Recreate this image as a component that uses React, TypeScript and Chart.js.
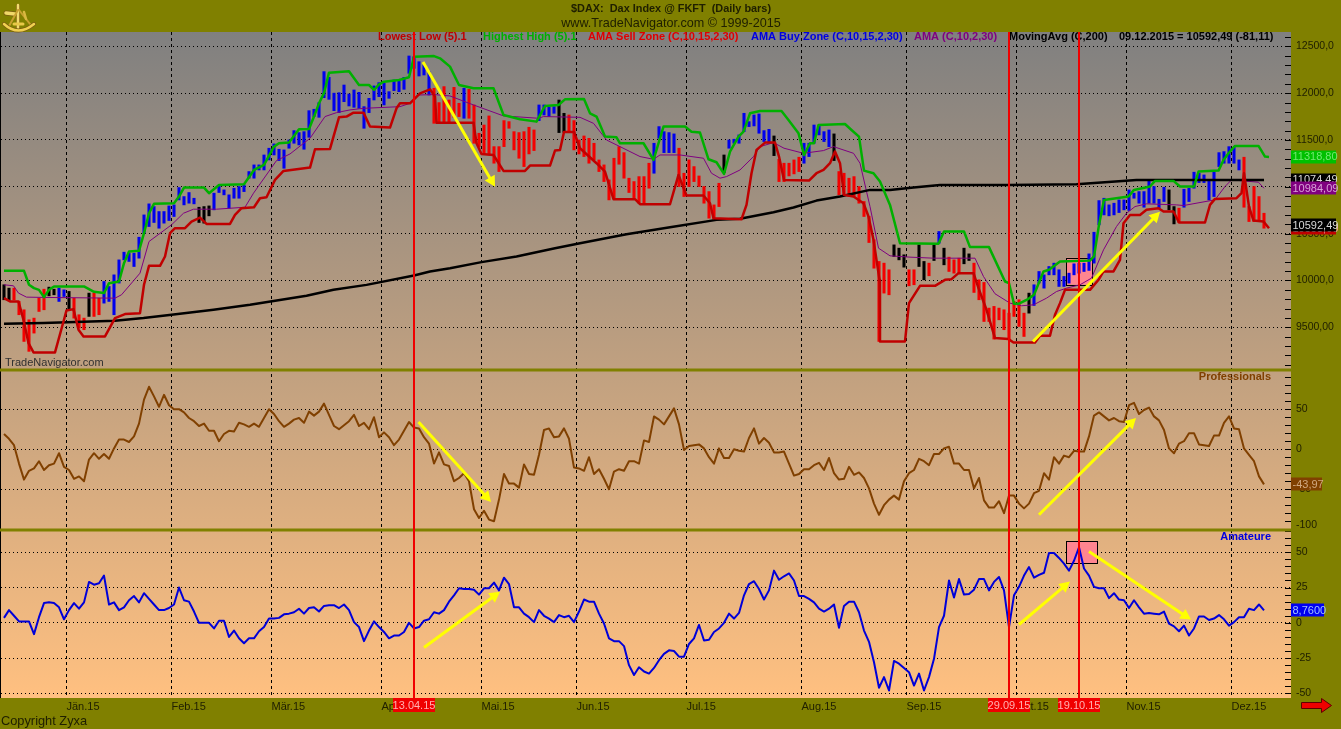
import React, { useEffect, useRef } from "react";
import { Chart, registerables } from "chart.js";

Chart.register(...registerables);

const monthLabels = ["Jän.15", "Feb.15", "Mär.15", "Apr.15", "Mai.15", "Jun.15", "Jul.15", "Aug.15", "Sep.15", "Okt.15", "Nov.15", "Dez.15"];
const monthBars = [12.5, 33.5, 53.5, 75.5, 95.5, 114.5, 136.5, 159.5, 180.5, 202.5, 224.5, 245.5];

const priceLabels: Record<number, string> = { 12500: "12500,0", 12000: "12000,0", 11500: "11500,0", 11000: "11000,0", 10500: "10500,0", 10000: "10000,0", 9500: "9500,00" };
const proLabels: Record<number, string> = { 50: "50", 0: "0", [-50]: "-50" };
const amaLabels: Record<number, string> = { 50: "50", 25: "25", 0: "0", [-25]: "-25", [-50]: "-50" };

const barHighs = [9954, 9918, 9918, 9776, 9687, 9580, 9598, 9811, 9907, 9929, 9907, 9918, 9900, 9883, 9811, 9634, 9598, 9865, 9865, 9811, 9989, 9936, 10060, 10220, 10302, 10292, 10292, 10462, 10700, 10818, 10789, 10736, 10736, 10796, 10807, 10992, 10896, 10939, 10878, 10782, 10789, 10796, 10932, 11013, 10967, 10914, 10985, 11003, 11020, 11163, 11234, 11234, 11340, 11412, 11458, 11401, 11394, 11500, 11600, 11579, 11589, 11813, 11828, 11899, 12230, 12169, 12000, 12005, 12087, 11991, 12034, 12009, 11856, 11945, 12077, 12112, 12105, 12016, 12141, 12141, 12169, 12397, 12389, 12336, 12301, 12230, 12052, 11899, 12070, 11927, 12062, 11892, 12052, 12041, 11874, 11572, 11660, 11757, 11429, 11429, 11707, 11696, 11589, 11579, 11589, 11636, 11607, 11874, 11874, 11849, 11856, 11927, 11785, 11767, 11707, 11500, 11543, 11518, 11465, 11287, 11234, 11074, 11305, 11429, 11365, 11092, 11056, 11109, 11109, 11252, 11465, 11643, 11589, 11579, 11565, 11412, 11145, 11287, 11216, 11116, 11003, 10949, 10807, 11038, 11340, 11500, 11508, 11554, 11785, 11696, 11767, 11778, 11600, 11614, 11543, 11294, 11252, 11252, 11287, 11316, 11465, 11465, 11660, 11650, 11589, 11607, 11565, 11163, 11145, 11092, 11109, 11003, 10843, 10683, 10434, 10203, 10185, 10114, 10380, 10345, 10274, 10114, 10114, 10380, 10203, 10185, 10380, 10523, 10345, 10249, 10220, 10238, 10345, 10284, 10185, 10007, 9979, 9705, 9723, 9705, 9687, 9651, 9776, 9794, 9651, 9865, 9954, 10096, 10060, 10149, 10185, 10114, 10043, 10078, 10178, 10185, 10185, 10284, 10515, 10853, 10878, 10807, 10825, 10860, 10860, 10967, 10932, 10949, 10949, 11074, 11003, 10867, 10995, 10967, 10789, 10772, 10974, 10985, 11156, 11145, 11127, 11074, 11156, 11365, 11376, 11429, 11422, 11287, 11316, 10789, 11003, 10896, 10718];
const barLows = [9794, 9787, 9794, 9634, 9349, 9243, 9438, 9669, 9687, 9836, 9847, 9776, 9829, 9694, 9598, 9491, 9474, 9616, 9616, 9634, 9758, 9776, 9634, 9972, 10220, 10203, 10149, 10238, 10505, 10576, 10619, 10558, 10612, 10640, 10683, 10860, 10807, 10825, 10818, 10619, 10612, 10690, 10754, 10939, 10914, 10772, 10878, 10878, 10949, 11092, 11092, 11180, 11180, 11287, 11340, 11280, 11198, 11412, 11465, 11447, 11401, 11529, 11750, 11742, 11952, 11934, 11813, 11792, 11909, 11863, 11849, 11838, 11625, 11792, 11927, 11963, 11874, 11945, 12027, 12016, 12041, 12212, 12265, 12183, 12194, 11980, 11678, 11678, 11678, 11685, 11742, 11750, 11732, 11732, 11465, 11429, 11358, 11340, 11252, 11163, 11429, 11625, 11394, 11305, 11216, 11351, 11387, 11707, 11767, 11750, 11785, 11579, 11582, 11589, 11394, 11351, 11323, 11252, 11287, 11163, 11056, 10860, 10878, 11241, 11092, 10939, 10878, 10825, 10818, 10985, 11145, 11518, 11365, 11365, 11365, 11003, 10896, 11003, 11056, 11003, 10825, 10665, 10654, 10789, 11152, 11412, 11465, 11465, 11589, 11643, 11650, 11572, 11483, 11465, 11333, 11056, 11056, 11116, 11138, 11163, 11252, 11323, 11465, 11554, 11483, 11429, 11280, 10914, 10914, 10896, 10896, 10825, 10683, 10405, 10131, 9349, 9865, 9847, 10256, 10220, 10142, 9943, 9954, 10149, 10007, 10050, 10213, 10398, 10167, 10096, 10078, 10071, 10178, 10213, 9872, 9794, 9562, 9562, 9374, 9580, 9474, 9374, 9616, 9509, 9402, 9651, 9733, 9972, 9918, 10060, 10060, 9936, 9936, 9972, 10060, 10078, 10096, 10107, 10185, 10594, 10700, 10690, 10700, 10725, 10754, 10747, 10878, 10825, 10782, 10825, 10825, 10772, 10843, 10754, 10604, 10619, 10782, 10843, 10985, 11045, 11045, 10860, 10896, 11216, 11252, 11252, 11252, 11180, 10782, 10629, 10629, 10629, 10558];
const barColorRuns: [string, number][] = [["k", 2], ["r", 7], ["k", 2], ["b", 2], ["k", 1], ["r", 3], ["k", 1], ["r", 2], ["b", 19], ["k", 3], ["b", 44], ["r", 6], ["b", 1], ["r", 14], ["b", 4], ["k", 2], ["r", 17], ["b", 5], ["r", 9], ["k", 1], ["b", 9], ["k", 1], ["r", 5], ["b", 6], ["k", 1], ["r", 11], ["k", 3], ["r", 2], ["k", 2], ["r", 1], ["k", 1], ["b", 1], ["k", 1], ["r", 3], ["k", 2], ["r", 11], ["k", 1], ["b", 27], ["k", 2], ["r", 1], ["b", 12], ["r", 5]];

const highestHigh = [[0, 10103], [4, 10103], [5, 9954], [6, 9918], [7, 9900], [8, 9822], [9, 9900], [10, 9936], [16, 9936], [17, 9907], [18, 9879], [20, 9865], [21, 9971], [23, 9989], [24, 10185], [25, 10309], [27, 10316], [28, 10505], [29, 10718], [30, 10818], [34, 10825], [35, 10896], [36, 10992], [40, 10992], [41, 10932], [43, 11020], [48, 11028], [50, 11180], [52, 11234], [54, 11429], [55, 11465], [57, 11472], [59, 11614], [61, 11618], [62, 11750], [63, 11892], [64, 12000], [65, 12219], [69, 12233], [71, 12087], [73, 12087], [74, 12034], [75, 12094], [76, 12123], [79, 12141], [81, 12169], [82, 12389], [86, 12396], [87.2, 12372], [89.2, 12283], [91, 12087], [93.9, 12052], [97.9, 12052], [99.9, 11767], [103.2, 11721], [106.5, 11696], [108.2, 11863], [110.9, 11874], [112.2, 11934], [116, 11938], [117.2, 11785], [118.5, 11750], [120.2, 11536], [122.5, 11529], [123.2, 11465], [127.9, 11465], [129.9, 11287], [131.9, 11643], [136.2, 11643], [137.5, 11589], [139.2, 11579], [140.9, 11294], [142.5, 11262], [144, 11138], [145.2, 11376], [146.9, 11536], [147.9, 11589], [149.2, 11785], [151.2, 11810], [155.5, 11810], [156.9, 11714], [158.9, 11572], [160, 11340], [161.2, 11465], [162, 11465], [162.9, 11660], [168.2, 11671], [169.5, 11607], [171, 11536], [172, 11173], [173.9, 11145], [175.2, 11056], [177.2, 10807], [179.2, 10398], [186.9, 10391], [188, 10523], [192, 10523], [193.2, 10356], [197, 10356], [200.2, 9989], [201, 9971], [202, 9751], [202.9, 9751], [204.9, 9804], [206, 9847], [207.9, 10096], [209, 10114], [211.2, 10203], [217.2, 10213], [218, 10256], [219, 10594], [220, 10860], [224.9, 10896], [226, 10967], [229.2, 11003], [230.2, 11063], [233.9, 11063], [235.2, 11003], [238, 11003], [238.9, 11163], [242.9, 11173], [243.9, 11287], [244.9, 11358], [246.2, 11437], [250.9, 11437], [252.2, 11323], [253, 11319]];
const lowestLow = [[0, 9811], [1.2, 9776], [2.9, 9776], [3.9, 9580], [4.9, 9331], [5.9, 9232], [10.2, 9232], [11.9, 9562], [12.5, 9680], [13.9, 9694], [14.9, 9474], [15.9, 9402], [20.2, 9402], [22.2, 9598], [24.2, 9641], [27.2, 9651], [28, 9954], [29, 10156], [31.2, 10156], [32.2, 10256], [33.2, 10505], [34.2, 10558], [36.2, 10558], [37.5, 10629], [39.2, 10672], [40.5, 10604], [45.2, 10604], [46.2, 10700], [47.5, 10772], [50, 10782], [51.2, 10878], [52.5, 10889], [54.2, 11074], [55.9, 11170], [61.2, 11205], [62.2, 11401], [65.2, 11405], [67, 11742], [68.5, 11750], [69.9, 11792], [71.9, 11792], [73.2, 11643], [77.2, 11632], [78.5, 11838], [79.2, 11892], [81.2, 11892], [83.2, 11998], [85.2, 12041], [86.2, 11963], [86.5, 11685], [93.9, 11685], [94.5, 11465], [95.5, 11351], [97.9, 11340], [99.9, 11170], [104.2, 11170], [105.2, 11227], [109.2, 11227], [110.2, 11387], [111.2, 11394], [112, 11586], [114, 11586], [115.2, 11412], [118.5, 11252], [120.2, 11163], [121.9, 10868], [126.2, 10868], [127.2, 10814], [133.2, 10814], [134.9, 11127], [136.5, 10907], [139.9, 10907], [141.2, 10825], [141.9, 10665], [147.5, 10654], [148.5, 10807], [149.5, 11145], [150.5, 11394], [152.2, 11472], [154.2, 11472], [155, 11323], [156, 11074], [161, 11067], [162.5, 11145], [163.9, 11180], [165.2, 11252], [166.2, 11376], [167.2, 11252], [168, 10914], [169.9, 10896], [171.9, 10825], [172.9, 10683], [173.9, 10434], [175.1, 10007], [175.2, 9349], [180.2, 9349], [181, 9758], [183.2, 9943], [186.2, 9943], [188.2, 10007], [189.5, 10014], [190.9, 10078], [193.9, 10078], [194.9, 9918], [196.5, 9687], [198.2, 9385], [200.9, 9374], [201.9, 9338], [206.2, 9338], [207.2, 9410], [209.2, 9410], [210.2, 9634], [211.2, 9758], [212.2, 9900], [217.2, 9900], [218.9, 10007], [219.9, 10096], [221.9, 10096], [223.2, 10220], [223.9, 10611], [225.2, 10700], [227.2, 10700], [228.5, 10754], [230.9, 10772], [231.9, 10736], [233.9, 10736], [235, 10619], [240.2, 10619], [241.2, 10807], [242.2, 10871], [246.5, 10878], [247.5, 10932], [248, 11145], [249, 10789], [249.9, 10640], [251.9, 10629], [253, 10558]];
const amaLine = [[0, 9954], [1.9, 9943], [2.9, 9865], [4.5, 9822], [7.9, 9819], [22.2, 9811], [23.5, 9847], [27.2, 10078], [29, 10416], [33.5, 10594], [35.9, 10718], [37.9, 10761], [42.5, 10761], [48.2, 10782], [49.9, 10932], [54.5, 11280], [57.2, 11351], [61.2, 11518], [64.2, 11750], [66.5, 11792], [69.2, 11821], [71.9, 11838], [79.2, 11856], [81.2, 11892], [82.9, 11980], [86, 11985], [89.2, 11970], [93.9, 11874], [99.9, 11757], [106.9, 11732], [107.9, 11750], [115.2, 11742], [117.9, 11678], [120.5, 11500], [123.2, 11429], [127.2, 11323], [129.9, 11294], [131.2, 11340], [135.2, 11340], [139.9, 11305], [141.5, 11145], [143.2, 11092], [144.5, 11109], [147.2, 11180], [149.9, 11323], [151.2, 11429], [153.9, 11472], [156, 11412], [159.9, 11358], [163.9, 11387], [165.9, 11429], [169.9, 11358], [171.2, 11252], [173.2, 10789], [174.9, 10345], [177.2, 10263], [181.2, 10249], [185.9, 10238], [194.2, 10238], [195.9, 10042], [198.2, 9858], [201.2, 9758], [203.5, 9730], [205.9, 9740], [208.5, 9811], [210.5, 9882], [212.5, 9918], [215.2, 9954], [217.5, 10025], [219.9, 10327], [222.5, 10576], [224.5, 10718], [226.2, 10789], [228.5, 10818], [234.5, 10807], [235.9, 10800], [239.2, 10832], [242.2, 10861], [244.2, 11003], [245.5, 11074], [250.9, 11049], [252, 10984]];
const movingAvg = [[0, 9537], [7.9, 9545], [22.2, 9570], [27.9, 9598], [33.5, 9633], [41.9, 9687], [49.2, 9740], [60.5, 9836], [65.9, 9900], [72.5, 9953], [82, 10053], [85.2, 10096], [89.2, 10131], [95.5, 10196], [102.5, 10256], [110.2, 10345], [115.2, 10398], [124.5, 10494], [133.2, 10569], [142.5, 10647], [147.2, 10658], [153.9, 10729], [157.9, 10779], [162.5, 10853], [167.2, 10896], [173.2, 10967], [177.2, 10967], [181.9, 10992], [187.2, 11020], [200.9, 11020], [214.5, 11028], [226.5, 11074], [252, 11074]];

const professionals = [19, 13, 5, -18, -38, -27, -24, -15, -26, -20, -18, -5, -22, -26, -37, -34, -40, -13, -5, -12, -6, -12, 1, 12, 12, 9, 16, 32, 62, 78, 66, 53, 68, 55, 50, 50, 46, 39, 35, 29, 32, 23, 23, 10, 19, 23, 22, 33, 31, 28, 32, 28, 39, 50, 44, 35, 28, 32, 37, 39, 33, 47, 42, 47, 57, 43, 29, 25, 30, 35, 43, 29, 33, 25, 40, 15, 21, 15, 5, 12, 23, 34, 27, 26, 15, 7, -18, -4, -19, -21, -40, -36, -30, -40, -75, -86, -77, -88, -90, -63, -31, -43, -43, -48, -19, -31, -32, -7, 24, 26, 15, 16, 26, 13, -23, -24, -27, -10, -31, -25, -37, -50, -28, -25, -27, -15, -15, -18, 11, 9, 41, 37, 31, 41, 51, 31, -1, 4, 5, 6, 1, -10, -18, 1, -11, -11, 0, -2, -3, 14, 26, 7, 14, 8, -4, -4, -3, -18, -33, -31, -25, -25, -20, -17, -26, -11, -30, -38, -37, -22, -32, -29, -36, -49, -68, -82, -70, -63, -58, -63, -40, -30, -26, -12, -15, -20, -6, -6, 1, 3, -18, -18, -26, -26, -49, -36, -64, -73, -73, -65, -80, -58, -58, -68, -74, -68, -55, -52, -30, -38, -10, -18, -8, -10, -2, -3, -3, 16, 42, 46, 41, 36, 39, 35, 34, 55, 58, 44, 49, 52, 41, 36, 24, 1, -5, 7, 10, 20, 20, 6, 5, 4, 17, 17, 33, 41, 26, 25, 1, -7, -15, -34, -43.97];
const amateure = [3.5, 9, 5, 1, 1, 1, -8, 4, 14, 14.5, 14, 11, 2.5, 9, 14, 10, 14.5, 29, 27, 28, 33.5, 13, 14.5, 9, 11, 16, 19, 14.5, 21, 17, 13, 9, 9, 10.5, 13, 25, 16, 15, 8, 0, 0, 0, -4, 1.5, 1.5, -10, -5.5, -11, -14.5, -11, -11, -6, -3, 3, 3, 3.5, 6, 6.5, 7.5, 10, 6.5, 10.5, 11, 8, 12, 12.5, 12.5, 10.5, 13, 9, 0.5, -3, -13, -5.5, 1, -3, -6.5, -11, -9, -9, -6.5, 0, -4, -3, 1.5, 2.5, 7.5, 6.5, 9, 15, 19.5, 24.5, 24, 24, 23.5, 20, 24.5, 24.5, 28.5, 23, 32, 27.5, 11, 11, 6.5, 4, 0.5, 9, 5, 3, 0.5, 5.5, 4, 5, 0.5, 8, 16.5, 15, 15, 6.5, -0.5, -11, -13, -13, -16.5, -30, -37, -31.5, -34.5, -36, -32, -26.5, -22, -19.5, -20, -24, -24, -15, -11, -1.5, -12.5, -12, -6.5, -4, 0, 6.5, 3, 7, 19.5, 27.5, 29.5, 24, 16.5, 23, 37, 30.5, 33, 35, 30, 19, 19, 17, 14.5, 10, 8, 10, 13, -3.5, 12, 15, 15, 7.5, -5.5, -13.5, -28, -46, -38.5, -48, -27, -29, -32, -35, -44.5, -36, -48, -38.5, -25.5, -3, 5, 30, 18, 31, 20, 20.5, 23.5, 31, 31, 23, 29, 32.5, 23, -3, 19.5, 25.5, 33.5, 39.5, 32, 34, 35.5, 49.5, 49.5, 46, 42, 37, 44, 53.5, 38.5, 33.5, 25.5, 24.5, 24.5, 17.5, 21, 16.5, 16, 10.5, 16, 11, 6.5, 7, 6.5, 6, 8, -0.5, -2.5, -6, -2, -9, -4, 4.5, 4.5, 2, 3, 5.5, 2.5, -2, 0.5, 4, 4, 10, 9, 13, 8.76];

const markerBars = [82, 201, 215];
const markerDates = ["13.04.15", "29.09.15", "19.10.15"];

const arrowScales = ["yP", "yP", "yD", "yD", "yA", "yA", "yA"];
const arrowFrom = [[34, 82.9], [-82, 207], [12333, 83.8], [9348, 205.8], [-17.5, 84], [-1.2, 203], [50.6, 217]];
const arrowTo = [[-66, 97.4], [39, 226.4], [11000, 98.2], [10734, 231.2], [22, 99.2], [29.3, 213.2], [2.3, 237.4]];

const boxScales = ["yD", "yA"];
const boxBars = [[212.4, 217.6], [212.4, 218.6]];
const boxValues = [[10243, 9955], [57.7, 41.8]];

const legendTexts = ["Lowest Low (5).1", "Highest High (5).1", "AMA Sell Zone (C,10,15,2,30)", "AMA Buy Zone (C,10,15,2,30)", "AMA (C,10,2,30)", "MovingAvg (C,200)", "09.12.2015 = 10592,49 (-81,11)"];

const barColorMap: Record<string, string> = { r: "#f40000", b: "#0000ee", k: "#000000" };
const barColors = barColorRuns.flatMap(([c, n]) => Array(n).fill(barColorMap[c]));
const pairs = (list: number[][]) => list.map(([x, y]) => ({ x, y }));
const perBar = (list: number[]) => list.map((y, x) => ({ x, y }));

const SANS = '"Liberation Sans", Arial, sans-serif';

function text(ctx: CanvasRenderingContext2D, s: string, x: number, y: number, font: string, color: string, align: CanvasTextAlign = "left") {
  ctx.font = font;
  ctx.fillStyle = color;
  ctx.textAlign = align;
  ctx.textBaseline = "middle";
  ctx.fillText(s, x, y);
}

function drawLogo(ctx: CanvasRenderingContext2D) {
  ctx.save();
  ctx.lineCap = "round";
  const stroke = (color: string, w: number, pts: number[][]) => {
    ctx.strokeStyle = color;
    ctx.lineWidth = w;
    ctx.beginPath();
    pts.forEach(([x, y], i) => (i ? ctx.lineTo(x, y) : ctx.moveTo(x, y)));
    ctx.stroke();
  };
  stroke("#7a5c10", 5, [[6, 13], [15, 14]]);
  stroke("#f0d868", 3.5, [[6, 13], [15, 14]]);
  stroke("#8a6a14", 4, [[18, 6], [18, 30]]);
  stroke("#f2dc70", 2.4, [[18, 5], [18, 30]]);
  stroke("#c8a030", 2, [[18, 10], [9, 26]]);
  stroke("#c8a030", 2, [[19, 10], [30, 24]]);
  stroke("#d8b840", 2.5, [[24, 12], [26, 19]]);
  ctx.strokeStyle = "#7a5c10";
  ctx.lineWidth = 4;
  ctx.beginPath();
  ctx.moveTo(4, 24);
  ctx.quadraticCurveTo(18, 37, 34, 24);
  ctx.stroke();
  ctx.strokeStyle = "#f0d050";
  ctx.lineWidth = 2.5;
  ctx.beginPath();
  ctx.moveTo(4, 24);
  ctx.quadraticCurveTo(18, 37, 34, 24);
  ctx.stroke();
  stroke("#e8c848", 3, [[14, 24], [23, 24]]);
  ctx.restore();
}

const chromePlugin = {
  id: "chrome",
  beforeDraw(chart: any) {
    const { ctx, chartArea: a, width, height } = chart;
    ctx.save();
    ctx.fillStyle = "#808000";
    ctx.fillRect(0, 0, width, height);
    const g = ctx.createLinearGradient(0, a.top, 0, a.bottom);
    g.addColorStop(0, "#808080");
    g.addColorStop(1, "#ffc080");
    ctx.fillStyle = g;
    ctx.fillRect(0, a.top, a.right, a.bottom - a.top);
    ctx.restore();
  },
  beforeDatasetsDraw(chart: any) {
    const { ctx, chartArea: a, scales } = chart;
    ctx.save();
    boxScales.forEach((id, k) => {
      const x0 = scales.x.getPixelForValue(boxBars[k][0]);
      const x1 = scales.x.getPixelForValue(boxBars[k][1]);
      const y0 = scales[id].getPixelForValue(boxValues[k][0]);
      const y1 = scales[id].getPixelForValue(boxValues[k][1]);
      ctx.fillStyle = "#ff8590";
      ctx.fillRect(x0, y0, x1 - x0, y1 - y0);
      ctx.strokeStyle = "#000";
      ctx.lineWidth = 1;
      ctx.strokeRect(Math.round(x0) + 0.5, Math.round(y0) + 0.5, Math.round(x1 - x0), Math.round(y1 - y0));
    });
    ["yD", "yP", "yA"].forEach((id) => {
      ctx.strokeStyle = "#000";
      ctx.lineWidth = 1;
      scales[id].ticks.forEach((t: any) => {
        const y = Math.round(scales[id].getPixelForValue(t.value)) + 0.5;
        if (y < scales[id].top + 1 || y > scales[id].bottom - 1) return;
        ctx.beginPath();
        ctx.moveTo(a.right - 6, y);
        ctx.lineTo(a.right, y);
        ctx.stroke();
      });
    });
    ctx.fillStyle = "#000";
    ctx.fillRect(0, a.top, 1, a.bottom - a.top);
    ctx.fillStyle = "#808000";
    ctx.fillRect(0, scales.yD.bottom - 1.5, a.right, 3);
    ctx.fillRect(0, scales.yP.bottom - 1.5, a.right, 3);
    const legendColors = ["#c00000", "#00b000", "#e00000", "#0000e0", "#800080", "#000000", "#000000"];
    const legendX = [378, 483, 588, 751, 914, 1009, 1119];
    legendTexts.forEach((s, k) => text(ctx, s, legendX[k], a.top + 5, `bold 11px ${SANS}`, legendColors[k]));
    text(ctx, "TradeNavigator.com", 5, scales.yD.bottom - 7, `11px ${SANS}`, "#303030");
    text(ctx, "Professionals", 1271, scales.yP.top + 7, `bold 11px ${SANS}`, "#804000", "right");
    text(ctx, "Amateure", 1271, scales.yA.top + 7, `bold 11px ${SANS}`, "#0000e0", "right");
    ctx.restore();
  },
  afterDatasetsDraw(chart: any) {
    const { ctx, chartArea: a, scales } = chart;
    ctx.save();
    ctx.strokeStyle = "#f00000";
    ctx.lineWidth = 2;
    markerBars.forEach((b) => {
      const x = scales.x.getPixelForValue(b);
      ctx.beginPath();
      ctx.moveTo(x, a.top);
      ctx.lineTo(x, a.bottom);
      ctx.stroke();
    });
    ctx.strokeStyle = "#ffff00";
    ctx.fillStyle = "#ffff00";
    ctx.lineWidth = 3;
    arrowScales.forEach((id, k) => {
      const fromV = arrowFrom[k][0];
      const toV = arrowTo[k][0];
      const x0 = scales.x.getPixelForValue(arrowFrom[k][1]);
      const x1 = scales.x.getPixelForValue(arrowTo[k][1]);
      const y0 = scales[id].getPixelForValue(fromV);
      const y1 = scales[id].getPixelForValue(toV);
      const ang = Math.atan2(y1 - y0, x1 - x0);
      ctx.beginPath();
      ctx.moveTo(x0, y0);
      ctx.lineTo(x1 - 8 * Math.cos(ang), y1 - 8 * Math.sin(ang));
      ctx.stroke();
      ctx.beginPath();
      ctx.moveTo(x1, y1);
      ctx.lineTo(x1 - 12 * Math.cos(ang - 0.5), y1 - 12 * Math.sin(ang - 0.5));
      ctx.lineTo(x1 - 12 * Math.cos(ang + 0.5), y1 - 12 * Math.sin(ang + 0.5));
      ctx.closePath();
      ctx.fill();
    });
    ctx.restore();
  },
  afterDraw(chart: any) {
    const { ctx, chartArea: a, scales } = chart;
    ctx.save();
    drawLogo(ctx);
    text(ctx, "$DAX:  Dax Index @ FKFT  (Daily bars)", 671, 9, `bold 10.9px ${SANS}`, "#202000", "center");
    text(ctx, "www.TradeNavigator.com © 1999-2015", 671, 24, `12.6px ${SANS}`, "#202000", "center");
    text(ctx, "Copyright Zyxa", 1, 721, `12.8px ${SANS}`, "#202000");
    text(ctx, "-100", 1296, scales.yP.bottom - 5, `10.5px ${SANS}`, "#202000");

    const tag = (scaleId: string, v: number, w: number, bg: string, fg: string, s: string) => {
      const y = scales[scaleId].getPixelForValue(v);
      ctx.fillStyle = bg;
      ctx.fillRect(a.right, Math.round(y) - 6.5, w, 13);
      text(ctx, s, a.right + 1.5, y + 0.5, `11px ${SANS}`, fg);
    };
    tag("yD", 11318.8, 45, "#00c000", "#70e870", "11318,80");
    tag("yD", 11074.49, 45, "#000000", "#d8d8d8", "11074,49");
    tag("yD", 10984.09, 45, "#800080", "#d8a0d8", "10984,09");
    tag("yD", 10558, 45, "#c00000", "#f0a0a0", "10558,00");
    tag("yD", 10592.49, 45, "#000000", "#d8d8d8", "10592,49");
    tag("yP", -43.97, 31, "#804000", "#d0a880", "-43,97");
    tag("yA", 8.76, 33, "#0000f0", "#a0c0ff", "8,7600");

    markerBars.forEach((b, k) => {
      const x = scales.x.getPixelForValue(b);
      ctx.fillStyle = "#f00000";
      ctx.fillRect(x - 21, a.bottom, 42, 14);
      text(ctx, markerDates[k], x, a.bottom + 7.5, `11px ${SANS}`, "#ffb0b0", "center");
    });

    ctx.fillStyle = "#f00000";
    ctx.strokeStyle = "#600000";
    ctx.lineWidth = 1;
    ctx.beginPath();
    ctx.moveTo(1301.5, 702.5);
    ctx.lineTo(1321.5, 702.5);
    ctx.lineTo(1321.5, 698.5);
    ctx.lineTo(1331.5, 705.5);
    ctx.lineTo(1321.5, 712.5);
    ctx.lineTo(1321.5, 708.5);
    ctx.lineTo(1301.5, 708.5);
    ctx.closePath();
    ctx.fill();
    ctx.stroke();
    ctx.restore();
  },
};

function paneAxis(min: number, max: number, weight: number, step: number, labels: Record<number, string>, major: (v: number) => boolean) {
  return {
    type: "linear",
    position: "right",
    stack: "panes",
    stackWeight: weight,
    min,
    max,
    afterBuildTicks(scale: any) {
      const out: any[] = [];
      for (let v = Math.ceil(min / step) * step; v <= max; v += step) out.push({ value: v });
      scale.ticks = out;
    },
    afterFit(scale: any) {
      scale.width = 50;
    },
    border: { display: false, dash: [1, 3] },
    grid: {
      offset: false,
      drawTicks: false,
      tickLength: 0,
      lineWidth: 1,
      color: (c: any) => (c.tick && major(c.tick.value) ? "#000000" : "rgba(0,0,0,0)"),
    },
    ticks: {
      autoSkip: false,
      padding: 5,
      color: "#202000",
      font: { family: SANS, size: 10.5 },
      callback: (v: number) => labels[v] ?? "",
    },
  };
}

const thinLine = (label: string, data: any[], color: string, width: number, yAxisID: string, order: number) => ({
  type: "line",
  label,
  data,
  borderColor: color,
  borderWidth: width,
  pointRadius: 0,
  tension: 0,
  yAxisID,
  order,
  borderJoinStyle: "round",
});

export default function App() {
  const ref = useRef<HTMLCanvasElement>(null);
  useEffect(() => {
    const chart = new Chart(ref.current as HTMLCanvasElement, {
      type: "line",
      data: {
        datasets: [
          {
            type: "bar",
            label: "DAX",
            data: barHighs.map((h, i) => ({ x: i, y: [barLows[i], h] })),
            backgroundColor: barColors,
            barThickness: 2.4,
            grouped: false,
            yAxisID: "yD",
            order: 6,
          },
          thinLine("AMA", pairs(amaLine), "#800080", 1, "yD", 5),
          thinLine("MovingAvg", pairs(movingAvg), "#000000", 2.5, "yD", 4),
          thinLine("Lowest Low", pairs(lowestLow), "#c00000", 2.5, "yD", 3),
          thinLine("Highest High", pairs(highestHigh), "#00b000", 2.5, "yD", 2),
          thinLine("Professionals", perBar(professionals), "#804000", 2, "yP", 1),
          thinLine("Amateure", perBar(amateure), "#0000d8", 2, "yA", 1),
        ] as any,
      },
      options: {
        responsive: false,
        maintainAspectRatio: false,
        animation: false,
        devicePixelRatio: 1,
        layout: { padding: { left: 1, top: 32, right: 0, bottom: 0 } },
        plugins: { legend: { display: false }, tooltip: { enabled: false }, title: { display: false } },
        scales: {
          x: {
            type: "linear",
            min: -0.6,
            max: 257.4,
            offset: false,
            afterBuildTicks(scale: any) {
              scale.ticks = monthBars.map((value) => ({ value }));
            },
            afterFit(scale: any) {
              scale.height = 31;
            },
            border: { display: false, dash: [3, 3] },
            grid: { offset: false, drawTicks: false, tickLength: 0, color: "#000000" },
            ticks: {
              autoSkip: false,
              maxRotation: 0,
              minRotation: 0,
              align: "start",
              padding: 2,
              color: "#202000",
              font: { family: SANS, size: 11 },
              callback: (_: number, i: number) => monthLabels[i],
            },
          },
          yD: paneAxis(9044, 12653, 338, 100, priceLabels, (v) => v % 500 === 0),
          yP: paneAxis(-101, 99, 160, 10, proLabels, (v) => v % 50 === 0),
          yA: paneAxis(-53.3, 65.8, 168, 5, amaLabels, (v) => v % 25 === 0),
        } as any,
      } as any,
      plugins: [chromePlugin as any],
    });
    return () => chart.destroy();
  }, []);
  return (
    <div style={{ position: "fixed", left: 0, top: 0, width: 1341, height: 729 }}>
      <canvas ref={ref} width={1341} height={729} style={{ display: "block", width: 1341, height: 729 }} />
    </div>
  );
}
